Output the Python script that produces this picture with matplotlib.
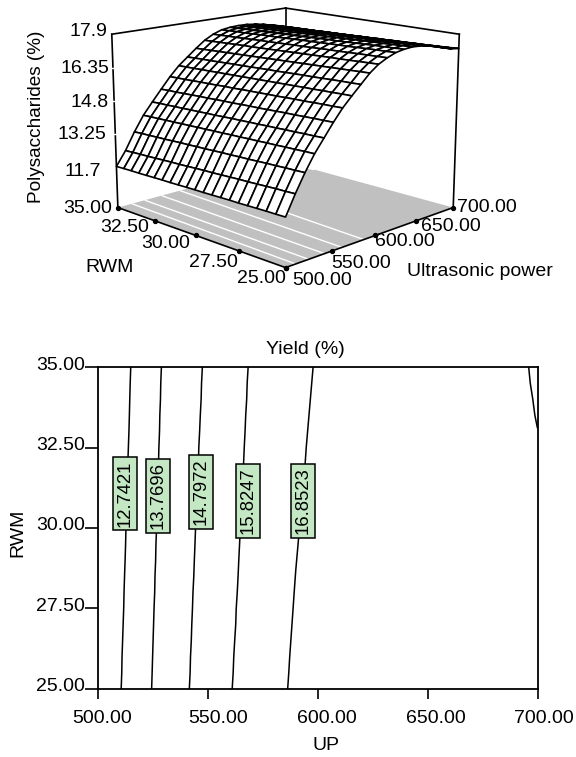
import numpy as np
import matplotlib
matplotlib.use('Agg')
import matplotlib.pyplot as plt
from matplotlib.transforms import ScaledTranslation
from mpl_toolkits.mplot3d import proj3d

plt.rcParams['font.family'] = ['Liberation Sans', 'DejaVu Sans']
plt.rcParams['font.size'] = 14

UP = [500, 510, 520, 530, 540, 550, 560, 570, 580, 590, 600, 610, 620, 630, 640, 650, 660, 670, 680, 690, 700]
RWM = [25.0, 25.5, 26.0, 26.5, 27.0, 27.5, 28.0, 28.5, 29.0, 29.5, 30.0, 30.5, 31.0, 31.5, 32.0, 32.5, 33.0, 33.5, 34.0, 34.5, 35.0]

# one row per RWM value, one column per UP value
Yield = [
    [11.85,12.70,13.47,14.15,14.71,15.27,15.78,16.20,16.60,17.00,17.30,17.50,17.65,17.72,17.75,17.72,17.65,17.55,17.45,17.30,17.25],
    [11.84,12.68,13.45,14.14,14.69,15.25,15.76,16.19,16.58,16.98,17.28,17.48,17.63,17.70,17.73,17.70,17.63,17.54,17.44,17.29,17.22],
    [11.84,12.67,13.44,14.12,14.68,15.24,15.75,16.17,16.57,16.96,17.26,17.47,17.62,17.68,17.71,17.69,17.62,17.52,17.42,17.28,17.20],
    [11.83,12.65,13.42,14.11,14.66,15.22,15.73,16.16,16.55,16.94,17.24,17.45,17.60,17.67,17.69,17.67,17.60,17.51,17.41,17.26,17.17],
    [11.82,12.63,13.41,14.09,14.65,15.20,15.71,16.14,16.53,16.92,17.22,17.43,17.58,17.65,17.68,17.65,17.58,17.49,17.39,17.25,17.14],
    [11.81,12.61,13.39,14.08,14.63,15.19,15.70,16.13,16.51,16.90,17.21,17.41,17.56,17.63,17.66,17.63,17.57,17.48,17.38,17.24,17.12],
    [11.81,12.60,13.37,14.06,14.62,15.17,15.68,16.11,16.50,16.88,17.19,17.40,17.55,17.61,17.64,17.62,17.55,17.46,17.36,17.23,17.09],
    [11.80,12.58,13.36,14.05,14.60,15.15,15.66,16.10,16.48,16.86,17.17,17.38,17.53,17.59,17.62,17.60,17.53,17.45,17.35,17.21,17.06],
    [11.79,12.56,13.34,14.03,14.59,15.13,15.65,16.08,16.46,16.84,17.15,17.36,17.51,17.58,17.60,17.58,17.52,17.43,17.33,17.20,17.03],
    [11.78,12.54,13.33,14.02,14.57,15.12,15.63,16.07,16.44,16.82,17.13,17.34,17.49,17.56,17.58,17.56,17.50,17.42,17.32,17.19,17.00],
    [11.78,12.53,13.31,14.00,14.56,15.10,15.62,16.05,16.43,16.80,17.11,17.33,17.48,17.54,17.57,17.55,17.49,17.40,17.30,17.18,16.98],
    [11.77,12.51,13.29,13.99,14.54,15.08,15.60,16.04,16.41,16.78,17.09,17.31,17.46,17.52,17.55,17.53,17.47,17.39,17.29,17.16,16.96],
    [11.76,12.49,13.28,13.97,14.52,15.07,15.58,16.02,16.39,16.76,17.07,17.29,17.44,17.50,17.53,17.51,17.45,17.37,17.27,17.15,16.94],
    [11.75,12.47,13.26,13.96,14.51,15.05,15.57,16.01,16.37,16.74,17.05,17.27,17.42,17.49,17.51,17.49,17.44,17.36,17.26,17.14,16.92],
    [11.75,12.46,13.25,13.94,14.49,15.03,15.55,15.99,16.36,16.72,17.03,17.26,17.41,17.47,17.49,17.48,17.42,17.34,17.24,17.13,16.90],
    [11.74,12.44,13.23,13.93,14.48,15.02,15.53,15.98,16.34,16.70,17.02,17.24,17.39,17.45,17.47,17.46,17.40,17.33,17.23,17.11,16.88],
    [11.73,12.42,13.21,13.91,14.46,15.00,15.52,15.96,16.32,16.68,17.00,17.22,17.37,17.43,17.45,17.44,17.39,17.31,17.21,17.10,16.86],
    [11.72,12.40,13.20,13.90,14.45,14.98,15.50,15.95,16.30,16.66,16.98,17.20,17.35,17.41,17.44,17.42,17.37,17.30,17.20,17.09,16.82],
    [11.72,12.39,13.18,13.88,14.43,14.96,15.48,15.93,16.29,16.64,16.96,17.19,17.34,17.40,17.42,17.41,17.35,17.28,17.18,17.08,16.79],
    [11.71,12.37,13.17,13.87,14.42,14.95,15.47,15.92,16.27,16.62,16.94,17.17,17.32,17.38,17.40,17.39,17.34,17.27,17.17,17.06,16.75],
    [11.70,12.35,13.15,13.85,14.40,14.93,15.45,15.90,16.25,16.60,16.92,17.15,17.30,17.36,17.38,17.37,17.32,17.25,17.15,17.05,16.72],
]

levels = [12.7421, 13.7696, 14.7972, 15.8247, 16.8523]
label_up = [512.2, 527.3, 547.0, 568.2, 593.3]
label_rwm = [31.07, 31.0, 31.13, 30.84, 30.84]

up_ticks = [500, 550, 600, 650, 700]
rwm_ticks = [35, 32.5, 30, 27.5, 25]
z_ticks = [17.9, 16.35, 14.8, 13.25, 11.7]
z_floor = 9.7
z_top = 17.9

U, R = np.meshgrid(UP, RWM)
Z = np.array(Yield)

fig = plt.figure(figsize=(5.76, 7.57), dpi=100)


def label3d(x, y, z, s, dx, dy, ha):
    # plain 2d label at a projected point, shifted some pixels (y down)
    px, py, _ = proj3d.proj_transform(x, y, z, ax.get_proj())
    ax.annotate(s, xy=(px, py), xytext=(dx, -dy), textcoords='offset pixels',
                ha=ha, va='center', zorder=5)


# ---- surface
ax = fig.add_axes([0.1623, 0.5846, 0.6493, 0.494], projection='3d')
ax.computed_zorder = False
ax.set_axis_off()
ax.patch.set_visible(False)
ax.set_xlim(500, 700, view_margin=0)
ax.set_ylim(25, 35, view_margin=0)
ax.set_zlim(z_floor, z_top, view_margin=0)
ax.set_box_aspect((1, 1, 0.74), zoom=1.0)
ax.view_init(elev=14, azim=-135)
ax.set_proj_type('persp', focal_length=0.6)

ax.plot_surface(np.array([[500, 700], [500, 700]]), np.array([[25, 25], [35, 35]]),
                np.full((2, 2), z_floor), color='#c0c0c0', shade=False, linewidth=0, zorder=1)
ax.contour(U, R, Z, levels=levels, zdir='z', offset=z_floor, colors='white', linewidths=1, zorder=2)

# walls
ax.plot([500, 700], [35, 35], [z_top, z_top], color='k', lw=1.2, zorder=2)
ax.plot([700, 700], [25, 35], [z_top, z_top], color='k', lw=1.2, zorder=2)
ax.plot([700, 700], [35, 35], [z_floor, z_top], color='k', lw=1.2, zorder=2)
ax.plot([500, 500], [35, 35], [z_floor, z_top], color='k', lw=1.2, zorder=2)
ax.plot([700, 700], [25, 25], [z_floor, z_top], color='k', lw=1.2, zorder=2)
ax.plot([500, 500], [25, 35], [z_floor, z_floor], color='k', lw=1.2, zorder=2)
ax.plot([500, 700], [25, 25], [z_floor, z_floor], color='k', lw=1.2, zorder=2)

ax.plot_surface(U, R, Z, rstride=1, cstride=1, color='white', edgecolor='k',
                linewidth=1.2, shade=False, zorder=3)

ax.scatter([500] * 5, rwm_ticks, [z_floor] * 5, color='k', s=8, depthshade=False, zorder=4)
ax.scatter(up_ticks, [25] * 5, [z_floor] * 5, color='k', s=8, depthshade=False, zorder=4)
ax.scatter([500] * 3, [35] * 3, z_ticks[1:4], color='white', marker='_', s=12, linewidths=1,
           depthshade=False, zorder=4)

for v, dx, dy in zip(z_ticks, [-4, -4, -6, -9, -15], [-3, 1, 1, 0, 5]):
    label3d(500, 35, v, '%g' % v, dx, dy, 'right')
for v, dx, dy in zip(rwm_ticks, [-5.5, -6, -6, -1.5, 0], [1, 6, 8, 12, 11]):
    label3d(500, v, z_floor, '%.2f' % v, dx, dy, 'right')
for v, dx, dy in zip(up_ticks, [7, -1, 0, 5, 4], [13, 13, 6, 5, 0]):
    label3d(v, 25, z_floor, '%.2f' % v, dx, dy, 'left')

fig.text(37 / 576, 1 - 117 / 757, 'Polysaccharides (%)', rotation=90, ha='center', va='center', fontsize=13.7)
fig.text(110 / 576, 1 - 268 / 757, 'RWM', ha='center', va='center')
fig.text(480 / 576, 1 - 272 / 757, 'Ultrasonic power', ha='center', va='center')

# ---- contour plot
ax2 = fig.add_axes([98 / 576, 1 - 689 / 757, 439.5 / 576, 322 / 757])
ax2.contour(U, R, Z, levels=levels, colors='k', linewidths=1.1)
ax2.set_xlim(500, 700)
ax2.set_ylim(25, 35)
ax2.set_xticks(up_ticks)
ax2.set_xticklabels(['%.2f' % v for v in up_ticks])
ax2.set_yticks(rwm_ticks)
ax2.set_yticklabels(['%.2f' % v for v in rwm_ticks])
ax2.tick_params(axis='x', length=7.2, width=1.2, pad=8)
ax2.tick_params(axis='y', length=9.4, width=1.2, pad=0)
for s in ax2.spines.values():
    s.set_linewidth(1.3)
for lab, dx in zip(ax2.get_xticklabels(), [4, 10, 9, 8, 6.5]):
    lab.set_transform(lab.get_transform() + ScaledTranslation(dx / 100, 0, fig.dpi_scale_trans))
for lab in ax2.get_yticklabels():
    lab.set_transform(lab.get_transform() + ScaledTranslation(0, 4 / 100, fig.dpi_scale_trans))

for lev, x, y in zip(levels, label_up, label_rwm):
    ax2.text(x, y, '%.4f' % lev, rotation=90, ha='center', va='center', zorder=5, fontsize=13.3,
             bbox=dict(boxstyle='square,pad=0.2', facecolor='#c3e8c3', edgecolor='k', linewidth=1.1))

fig.text(305 / 576, 1 - 349 / 757, 'Yield (%)', ha='center', va='center')
fig.text(326.5 / 576, 1 - 745 / 757, 'UP', ha='center', va='center')
fig.text(18 / 576, 1 - 533 / 757, 'RWM', rotation=90, ha='center', va='center')

fig.savefig('out.png', dpi=100)
